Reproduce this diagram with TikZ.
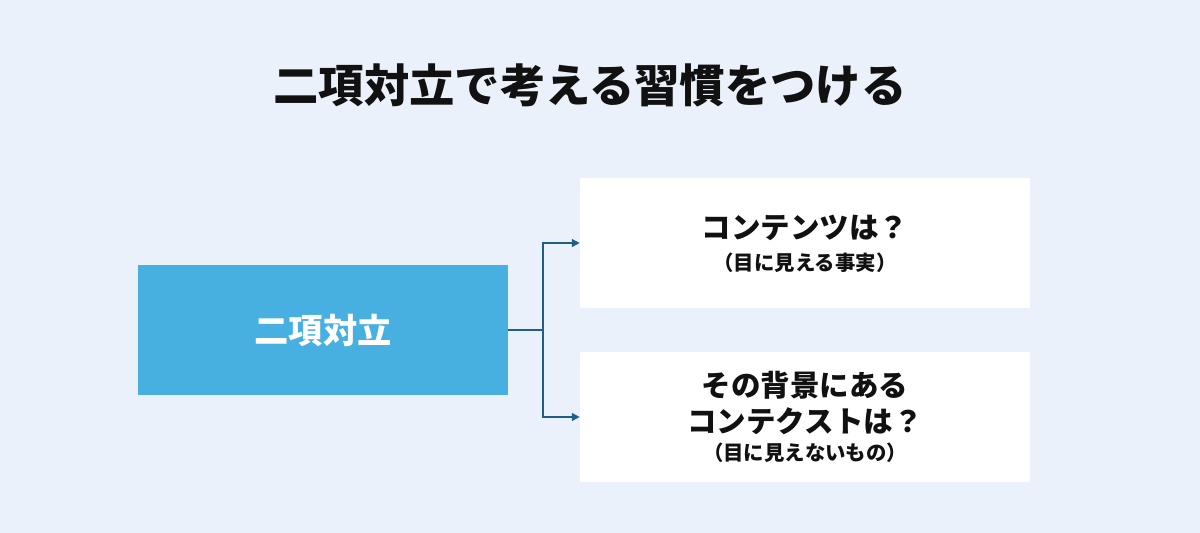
\documentclass[tikz,border=0pt]{standalone}
\usepackage{fontspec}
\newfontfamily\cjk{Noto Sans CJK JP}
\usetikzlibrary{arrows.meta}
\definecolor{bgc}{HTML}{EAF1FB}
\definecolor{boxblue}{HTML}{48B0E0}
\definecolor{linec}{HTML}{1F5F85}
\definecolor{txt}{HTML}{111111}
\tikzset{
  px/.style={x=0.02cm,y=-0.02cm},
  mainbox/.style={fill=boxblue,draw=none,minimum width=7.4cm,minimum height=2.6cm,inner sep=0pt},
  answerbox/.style={fill=white,draw=none,minimum width=9cm,minimum height=2.6cm,inner sep=0pt},
  conn/.style={draw=linec,line width=0.9pt,-{Triangle[length=4.5pt,width=4.5pt]}},
  lbl/.style={font=\cjk\bfseries,text=txt,inner sep=0pt,align=center},
  bigq/.style={lbl,font=\cjk\bfseries\fontsize{16.8pt}{20pt}\selectfont},
  smallq/.style={lbl,font=\cjk\bfseries\fontsize{11.6pt}{14pt}\selectfont},
}
\begin{document}
\begin{tikzpicture}[px]
\useasboundingbox (0,0) rectangle (1200,532);
\fill[bgc] (-20,-20) rectangle (1220,560);
\node[lbl,font=\cjk\bfseries\fontsize{25.8pt}{30pt}\selectfont] (title) at (590,85) {二項対立で考える習慣をつける};
\node[mainbox] (main) at (323,330) {};
\node[lbl,text=white,font=\cjk\bfseries\fontsize{19.5pt}{23pt}\selectfont] (maint) at (323,330) {二項対立};
\node[answerbox] (top) at (805,243) {};
\node[answerbox] (bot) at (805,417) {};
\node[bigq] (t1) at (805,228) {コンテンツは？};
\node[smallq] (t1s) at (805,263) {（目に見える事実）};
\node[bigq] (b1) at (805,385) {その背景にある};
\node[bigq] (b2) at (805,421) {コンテクストは？};
\node[smallq] (b3) at (805,453) {（目に見えないもの）};
\coordinate (split) at (543,330);
\draw[draw=linec,line width=0.9pt] (main.east) -- (split);
\draw[conn] (split) |- (top.west);
\draw[conn] (split) |- (bot.west);
\end{tikzpicture}
\end{document}
